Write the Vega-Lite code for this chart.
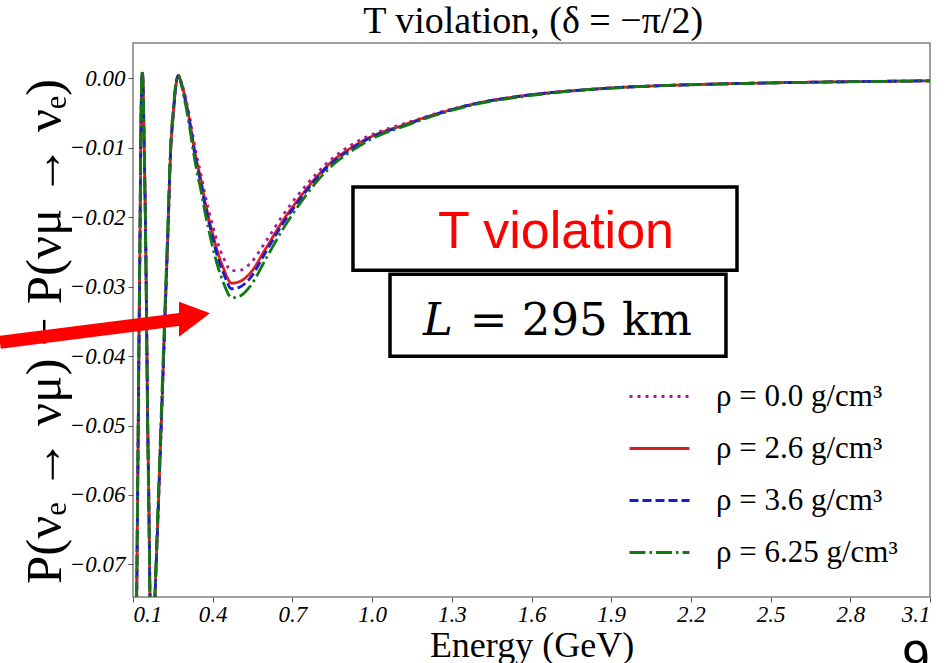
{
  "$schema": "https://vega.github.io/schema/vega-lite/v6.json",
  "width": 797,
  "height": 554,
  "autosize": {"type": "none"},
  "padding": {"left": 133, "top": 43, "right": 17, "bottom": 66},
  "background": "white",
  "config": {
    "view": {"stroke": "#808080", "strokeWidth": 1.5},
    "axis": {"grid": false, "domain": false, "tickColor": "#555", "tickSize": 5, "labelFont": "Liberation Serif", "labelFontStyle": "italic", "labelFontSize": 23, "labelColor": "black", "titleFont": "Liberation Serif", "titleFontWeight": "normal", "titleColor": "black"}
  },
  "layer": [
    {
      "data": {"values": [
        {"r":"0.0","E":0.100,"P":-0.115},{"r":"0.0","E":0.108,"P":-0.095},{"r":"0.0","E":0.1139,"P":-0.0747},{"r":"0.0","E":0.117,"P":-0.062},{"r":"0.0","E":0.120,"P":-0.0492},{"r":"0.0","E":0.123,"P":-0.036},{"r":"0.0","E":0.1263,"P":-0.0233},{"r":"0.0","E":0.129,"P":-0.0103},{"r":"0.0","E":0.131,"P":-0.0040},{"r":"0.0","E":0.133,"P":-0.0006},{"r":"0.0","E":0.135,"P":0.0005},{"r":"0.0","E":0.137,"P":0.0000},{"r":"0.0","E":0.1395,"P":-0.0040},{"r":"0.0","E":0.1425,"P":-0.0103},{"r":"0.0","E":0.1478,"P":-0.0233},{"r":"0.0","E":0.1515,"P":-0.036},{"r":"0.0","E":0.1553,"P":-0.0492},{"r":"0.0","E":0.160,"P":-0.062},{"r":"0.0","E":0.164,"P":-0.0747},{"r":"0.0","E":0.172,"P":-0.086},{"r":"0.0","E":0.1828,"P":-0.0747},{"r":"0.0","E":0.195,"P":-0.062},{"r":"0.0","E":0.207,"P":-0.0492},{"r":"0.0","E":0.219,"P":-0.036},{"r":"0.0","E":0.2306,"P":-0.0233},{"r":"0.0","E":0.242,"P":-0.0103},{"r":"0.0","E":0.252,"P":-0.0050},{"r":"0.0","E":0.260,"P":-0.0015},{"r":"0.0","E":0.2705,"P":0.0004},{"r":"0.0","E":0.280,"P":-0.0003},{"r":"0.0","E":0.290,"P":-0.0015},{"r":"0.0","E":0.300,"P":-0.0031},{"r":"0.0","E":0.315,"P":-0.0059},{"r":"0.0","E":0.327,"P":-0.0086},{"r":"0.0","E":0.340,"P":-0.0112},{"r":"0.0","E":0.355,"P":-0.0137},{"r":"0.0","E":0.370,"P":-0.0165},{"r":"0.0","E":0.385,"P":-0.0190},{"r":"0.0","E":0.400,"P":-0.0212},{"r":"0.0","E":0.420,"P":-0.0238},{"r":"0.0","E":0.440,"P":-0.0258},{"r":"0.0","E":0.4715,"P":-0.0277},{"r":"0.0","E":0.505,"P":-0.0276},{"r":"0.0","E":0.540,"P":-0.0267},{"r":"0.0","E":0.603,"P":-0.0233},{"r":"0.0","E":0.666,"P":-0.0196},{"r":"0.0","E":0.729,"P":-0.0164},{"r":"0.0","E":0.791,"P":-0.0137},{"r":"0.0","E":0.854,"P":-0.0114},{"r":"0.0","E":0.917,"P":-0.0097},{"r":"0.0","E":0.980,"P":-0.0084},{"r":"0.0","E":1.040,"P":-0.0075},{"r":"0.0","E":1.105,"P":-0.0067},{"r":"0.0","E":1.155,"P":-0.0061},{"r":"0.0","E":1.281,"P":-0.0046},{"r":"0.0","E":1.406,"P":-0.0035},{"r":"0.0","E":1.531,"P":-0.0027},{"r":"0.0","E":1.657,"P":-0.0021},{"r":"0.0","E":1.782,"P":-0.0017},{"r":"0.0","E":1.908,"P":-0.00135},{"r":"0.0","E":2.05,"P":-0.0011},{"r":"0.0","E":2.25,"P":-0.00085},{"r":"0.0","E":2.45,"P":-0.00068},{"r":"0.0","E":2.65,"P":-0.00055},{"r":"0.0","E":2.85,"P":-0.00045},{"r":"0.0","E":3.10,"P":-0.00035},

        {"r":"2.6","E":0.100,"P":-0.115},{"r":"2.6","E":0.108,"P":-0.095},{"r":"2.6","E":0.1139,"P":-0.0747},{"r":"2.6","E":0.117,"P":-0.062},{"r":"2.6","E":0.120,"P":-0.0492},{"r":"2.6","E":0.123,"P":-0.036},{"r":"2.6","E":0.1263,"P":-0.0233},{"r":"2.6","E":0.129,"P":-0.0103},{"r":"2.6","E":0.131,"P":-0.0040},{"r":"2.6","E":0.133,"P":-0.0005},{"r":"2.6","E":0.135,"P":0.0007},{"r":"2.6","E":0.137,"P":0.0001},{"r":"2.6","E":0.1395,"P":-0.0040},{"r":"2.6","E":0.1425,"P":-0.0103},{"r":"2.6","E":0.1478,"P":-0.0233},{"r":"2.6","E":0.1515,"P":-0.036},{"r":"2.6","E":0.1553,"P":-0.0492},{"r":"2.6","E":0.160,"P":-0.062},{"r":"2.6","E":0.164,"P":-0.0747},{"r":"2.6","E":0.172,"P":-0.086},{"r":"2.6","E":0.1828,"P":-0.0747},{"r":"2.6","E":0.195,"P":-0.062},{"r":"2.6","E":0.207,"P":-0.0492},{"r":"2.6","E":0.219,"P":-0.036},{"r":"2.6","E":0.2306,"P":-0.0233},{"r":"2.6","E":0.242,"P":-0.0103},{"r":"2.6","E":0.252,"P":-0.0050},{"r":"2.6","E":0.260,"P":-0.0015},{"r":"2.6","E":0.2705,"P":0.0004},{"r":"2.6","E":0.280,"P":-0.0004},{"r":"2.6","E":0.290,"P":-0.0018},{"r":"2.6","E":0.300,"P":-0.0035},{"r":"2.6","E":0.315,"P":-0.0065},{"r":"2.6","E":0.327,"P":-0.0093},{"r":"2.6","E":0.340,"P":-0.0120},{"r":"2.6","E":0.355,"P":-0.0145},{"r":"2.6","E":0.370,"P":-0.0175},{"r":"2.6","E":0.385,"P":-0.0201},{"r":"2.6","E":0.400,"P":-0.0224},{"r":"2.6","E":0.420,"P":-0.0252},{"r":"2.6","E":0.440,"P":-0.0273},{"r":"2.6","E":0.4715,"P":-0.0295},{"r":"2.6","E":0.505,"P":-0.0292},{"r":"2.6","E":0.540,"P":-0.0281},{"r":"2.6","E":0.603,"P":-0.0243},{"r":"2.6","E":0.666,"P":-0.0204},{"r":"2.6","E":0.729,"P":-0.0171},{"r":"2.6","E":0.791,"P":-0.0142},{"r":"2.6","E":0.854,"P":-0.0118},{"r":"2.6","E":0.917,"P":-0.0101},{"r":"2.6","E":0.980,"P":-0.0087},{"r":"2.6","E":1.040,"P":-0.0077},{"r":"2.6","E":1.105,"P":-0.0069},{"r":"2.6","E":1.155,"P":-0.0062},{"r":"2.6","E":1.281,"P":-0.0047},{"r":"2.6","E":1.406,"P":-0.0035},{"r":"2.6","E":1.531,"P":-0.0027},{"r":"2.6","E":1.657,"P":-0.0021},{"r":"2.6","E":1.782,"P":-0.0017},{"r":"2.6","E":1.908,"P":-0.00135},{"r":"2.6","E":2.05,"P":-0.0011},{"r":"2.6","E":2.25,"P":-0.00085},{"r":"2.6","E":2.45,"P":-0.00068},{"r":"2.6","E":2.65,"P":-0.00055},{"r":"2.6","E":2.85,"P":-0.00045},{"r":"2.6","E":3.10,"P":-0.00035},

        {"r":"3.6","E":0.100,"P":-0.115},{"r":"3.6","E":0.108,"P":-0.095},{"r":"3.6","E":0.1139,"P":-0.0747},{"r":"3.6","E":0.117,"P":-0.062},{"r":"3.6","E":0.120,"P":-0.0492},{"r":"3.6","E":0.123,"P":-0.036},{"r":"3.6","E":0.1263,"P":-0.0233},{"r":"3.6","E":0.129,"P":-0.0103},{"r":"3.6","E":0.131,"P":-0.0039},{"r":"3.6","E":0.133,"P":-0.0004},{"r":"3.6","E":0.135,"P":0.0009},{"r":"3.6","E":0.137,"P":0.0002},{"r":"3.6","E":0.1395,"P":-0.0040},{"r":"3.6","E":0.1425,"P":-0.0104},{"r":"3.6","E":0.1478,"P":-0.0235},{"r":"3.6","E":0.1515,"P":-0.036},{"r":"3.6","E":0.1553,"P":-0.0494},{"r":"3.6","E":0.160,"P":-0.062},{"r":"3.6","E":0.164,"P":-0.0749},{"r":"3.6","E":0.172,"P":-0.086},{"r":"3.6","E":0.1828,"P":-0.0747},{"r":"3.6","E":0.195,"P":-0.062},{"r":"3.6","E":0.207,"P":-0.0490},{"r":"3.6","E":0.219,"P":-0.0357},{"r":"3.6","E":0.2306,"P":-0.0230},{"r":"3.6","E":0.242,"P":-0.0101},{"r":"3.6","E":0.252,"P":-0.0049},{"r":"3.6","E":0.260,"P":-0.0014},{"r":"3.6","E":0.2705,"P":0.0004},{"r":"3.6","E":0.280,"P":-0.0005},{"r":"3.6","E":0.290,"P":-0.0020},{"r":"3.6","E":0.300,"P":-0.0037},{"r":"3.6","E":0.315,"P":-0.0068},{"r":"3.6","E":0.327,"P":-0.0097},{"r":"3.6","E":0.340,"P":-0.0124},{"r":"3.6","E":0.355,"P":-0.0150},{"r":"3.6","E":0.370,"P":-0.0180},{"r":"3.6","E":0.385,"P":-0.0206},{"r":"3.6","E":0.400,"P":-0.0230},{"r":"3.6","E":0.420,"P":-0.0259},{"r":"3.6","E":0.440,"P":-0.0280},{"r":"3.6","E":0.4715,"P":-0.0303},{"r":"3.6","E":0.505,"P":-0.0300},{"r":"3.6","E":0.540,"P":-0.0288},{"r":"3.6","E":0.603,"P":-0.0248},{"r":"3.6","E":0.666,"P":-0.0208},{"r":"3.6","E":0.729,"P":-0.0174},{"r":"3.6","E":0.791,"P":-0.0144},{"r":"3.6","E":0.854,"P":-0.0120},{"r":"3.6","E":0.917,"P":-0.0103},{"r":"3.6","E":0.980,"P":-0.0088},{"r":"3.6","E":1.040,"P":-0.0078},{"r":"3.6","E":1.105,"P":-0.0070},{"r":"3.6","E":1.155,"P":-0.0063},{"r":"3.6","E":1.281,"P":-0.0047},{"r":"3.6","E":1.406,"P":-0.0035},{"r":"3.6","E":1.531,"P":-0.0027},{"r":"3.6","E":1.657,"P":-0.0021},{"r":"3.6","E":1.782,"P":-0.0017},{"r":"3.6","E":1.908,"P":-0.00135},{"r":"3.6","E":2.05,"P":-0.0011},{"r":"3.6","E":2.25,"P":-0.00085},{"r":"3.6","E":2.45,"P":-0.00068},{"r":"3.6","E":2.65,"P":-0.00055},{"r":"3.6","E":2.85,"P":-0.00045},{"r":"3.6","E":3.10,"P":-0.00035},

        {"r":"6.25","E":0.100,"P":-0.113},{"r":"6.25","E":0.108,"P":-0.093},{"r":"6.25","E":0.1139,"P":-0.0735},{"r":"6.25","E":0.117,"P":-0.060},{"r":"6.25","E":0.120,"P":-0.0478},{"r":"6.25","E":0.123,"P":-0.0345},{"r":"6.25","E":0.1263,"P":-0.0220},{"r":"6.25","E":0.129,"P":-0.0093},{"r":"6.25","E":0.131,"P":-0.0032},{"r":"6.25","E":0.133,"P":0.0002},{"r":"6.25","E":0.135,"P":0.0012},{"r":"6.25","E":0.137,"P":0.0003},{"r":"6.25","E":0.1395,"P":-0.0043},{"r":"6.25","E":0.1425,"P":-0.0110},{"r":"6.25","E":0.1478,"P":-0.0245},{"r":"6.25","E":0.1515,"P":-0.0375},{"r":"6.25","E":0.1553,"P":-0.0508},{"r":"6.25","E":0.160,"P":-0.0635},{"r":"6.25","E":0.164,"P":-0.0760},{"r":"6.25","E":0.172,"P":-0.087},{"r":"6.25","E":0.1828,"P":-0.0740},{"r":"6.25","E":0.195,"P":-0.0605},{"r":"6.25","E":0.207,"P":-0.0475},{"r":"6.25","E":0.219,"P":-0.0342},{"r":"6.25","E":0.2306,"P":-0.0218},{"r":"6.25","E":0.242,"P":-0.0093},{"r":"6.25","E":0.252,"P":-0.0043},{"r":"6.25","E":0.260,"P":-0.0011},{"r":"6.25","E":0.2705,"P":0.0005},{"r":"6.25","E":0.280,"P":-0.0006},{"r":"6.25","E":0.290,"P":-0.0023},{"r":"6.25","E":0.300,"P":-0.0042},{"r":"6.25","E":0.315,"P":-0.0075},{"r":"6.25","E":0.327,"P":-0.0105},{"r":"6.25","E":0.340,"P":-0.0133},{"r":"6.25","E":0.355,"P":-0.0160},{"r":"6.25","E":0.370,"P":-0.0191},{"r":"6.25","E":0.385,"P":-0.0218},{"r":"6.25","E":0.400,"P":-0.0243},{"r":"6.25","E":0.420,"P":-0.0272},{"r":"6.25","E":0.440,"P":-0.0294},{"r":"6.25","E":0.4715,"P":-0.0316},{"r":"6.25","E":0.505,"P":-0.0313},{"r":"6.25","E":0.540,"P":-0.0300},{"r":"6.25","E":0.603,"P":-0.0258},{"r":"6.25","E":0.666,"P":-0.0216},{"r":"6.25","E":0.729,"P":-0.0180},{"r":"6.25","E":0.791,"P":-0.0149},{"r":"6.25","E":0.854,"P":-0.0124},{"r":"6.25","E":0.917,"P":-0.0106},{"r":"6.25","E":0.980,"P":-0.0091},{"r":"6.25","E":1.040,"P":-0.0080},{"r":"6.25","E":1.105,"P":-0.0071},{"r":"6.25","E":1.155,"P":-0.0064},{"r":"6.25","E":1.281,"P":-0.0048},{"r":"6.25","E":1.406,"P":-0.0036},{"r":"6.25","E":1.531,"P":-0.0028},{"r":"6.25","E":1.657,"P":-0.0022},{"r":"6.25","E":1.782,"P":-0.0017},{"r":"6.25","E":1.908,"P":-0.0014},{"r":"6.25","E":2.05,"P":-0.0011},{"r":"6.25","E":2.25,"P":-0.00087},{"r":"6.25","E":2.45,"P":-0.00069},{"r":"6.25","E":2.65,"P":-0.00056},{"r":"6.25","E":2.85,"P":-0.00046},{"r":"6.25","E":3.10,"P":-0.00036}
      ]},
      "mark": {"type": "line", "strokeWidth": 2.8, "interpolate": "monotone", "clip": true},
      "encoding": {
        "x": {"field": "E", "type": "quantitative", "scale": {"domain": [0.1, 3.1], "nice": false, "zero": false},
          "axis": {"values": [0.1, 0.4, 0.7, 1.0, 1.3, 1.6, 1.9, 2.2, 2.5, 2.8, 3.1], "format": ".1f", "labelPadding": 1, "title": "Energy (GeV)", "titleFontSize": 36, "titleY": 59, "titleBaseline": "alphabetic"}},
        "y": {"field": "P", "type": "quantitative", "scale": {"domain": [-0.0747, 0.0051], "nice": false, "zero": false},
          "axis": {"values": [0, -0.01, -0.02, -0.03, -0.04, -0.05, -0.06, -0.07], "labelExpr": "replace(format(datum.value, '.2f'), '-', '−')", "labelPadding": 3, "title": "P(νₑ → νμ) − P(νμ → νₑ)", "titleFontSize": 51, "titleAngle": 270, "titleX": -88, "titleY": 288, "titleAlign": "center", "titleBaseline": "middle"}},
        "color": {"field": "r", "type": "nominal", "scale": {"domain": ["0.0", "2.6", "3.6", "6.25"], "range": ["#a0209f", "#dc2020", "#1a1ad6", "#127812"]},
          "legend": {"orient": "none", "legendX": 495, "legendY": 322, "title": null, "symbolType": "stroke", "symbolSize": 3600, "symbolStrokeWidth": 2.8, "labelFont": "Liberation Serif", "labelFontSize": 31, "labelLimit": 400, "labelOffset": 25, "rowPadding": 5, "labelExpr": "'ρ = ' + datum.label + ' g/cm³'"}},
        "strokeDash": {"field": "r", "type": "nominal", "scale": {"domain": ["0.0", "2.6", "3.6", "6.25"], "range": [[3, 5], [1, 0], [9, 4], [16, 4, 2.5, 4]]},
          "legend": {"orient": "none", "legendX": 495, "legendY": 322, "title": null, "symbolType": "stroke", "symbolSize": 3600, "symbolStrokeWidth": 2.8, "labelFont": "Liberation Serif", "labelFontSize": 31, "labelLimit": 400, "labelOffset": 25, "rowPadding": 5, "labelExpr": "'ρ = ' + datum.label + ' g/cm³'"}}
      }
    },
    {
      "data": {"values": [{"t": "T violation, (δ = −π/2)"}]},
      "mark": {"type": "text", "font": "Liberation Serif", "fontSize": 38, "color": "black", "align": "center", "baseline": "alphabetic", "clip": false},
      "encoding": {"x": {"datum": 1.606}, "y": {"datum": 0.00653}, "text": {"field": "t"}}
    },
    {
      "data": {"values": [{}]},
      "mark": {"type": "rect", "fill": "white", "stroke": "black", "strokeWidth": 3.5},
      "encoding": {"x": {"datum": 0.928}, "x2": {"datum": 2.3735}, "y": {"datum": -0.01566}, "y2": {"datum": -0.02762}}
    },
    {
      "data": {"values": [{}]},
      "mark": {"type": "rect", "fill": "white", "stroke": "black", "strokeWidth": 3.5},
      "encoding": {"x": {"datum": 1.0674}, "x2": {"datum": 2.332}, "y": {"datum": -0.0282}, "y2": {"datum": -0.04001}}
    },
    {
      "data": {"values": [{"t": "T violation"}]},
      "mark": {"type": "text", "font": "Liberation Sans", "fontSize": 52, "color": "#ff0000", "align": "center", "baseline": "alphabetic"},
      "encoding": {"x": {"datum": 1.692}, "y": {"datum": -0.02445}, "text": {"field": "t"}}
    },
    {
      "data": {"values": [{"t": "L"}]},
      "mark": {"type": "text", "font": "DejaVu Serif", "fontStyle": "italic", "fontSize": 45, "color": "black", "align": "left", "baseline": "alphabetic"},
      "encoding": {"x": {"datum": 1.1916}, "y": {"datum": -0.03699}, "text": {"field": "t"}}
    },
    {
      "data": {"values": [{"t": "= 295 km"}]},
      "mark": {"type": "text", "font": "DejaVu Serif", "fontSize": 45, "color": "black", "align": "right", "baseline": "alphabetic"},
      "encoding": {"x": {"datum": 2.2041}, "y": {"datum": -0.03699}, "text": {"field": "t"}}
    },
    {
      "data": {"values": [{}]},
      "mark": {"type": "rule", "color": "#ff0000", "strokeWidth": 13, "clip": false},
      "encoding": {"x": {"datum": -0.4006}, "x2": {"datum": 0.2844}, "y": {"datum": -0.0380}, "y2": {"datum": -0.03468}}
    },
    {
      "data": {"values": [{}]},
      "mark": {"type": "point", "shape": "M 0 0 L -31 -11.5 L -31 23.5 Z", "size": 4, "filled": true, "fill": "#ff0000", "opacity": 1, "strokeWidth": 0, "clip": false},
      "encoding": {"x": {"datum": 0.3898}, "y": {"datum": -0.03382}}
    },
    {
      "data": {"values": [{"t": "9"}]},
      "mark": {"type": "text", "font": "Liberation Sans", "fontSize": 50, "color": "black", "align": "center", "baseline": "alphabetic", "clip": false},
      "encoding": {"x": {"datum": 3.047}, "y": {"datum": -0.0861}, "text": {"field": "t"}}
    }
  ]
}
